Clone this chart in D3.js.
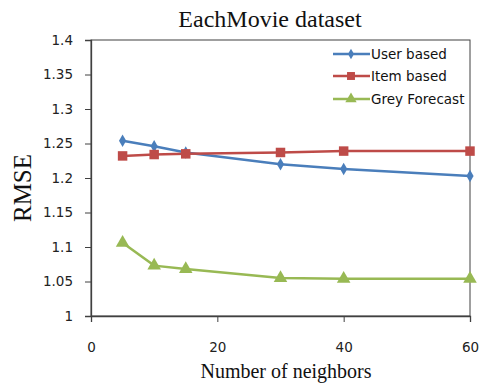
<!DOCTYPE html>
<html><head><meta charset="utf-8">
<script src="https://cdn.jsdelivr.net/npm/d3@7"></script>
<style>body{margin:0;background:#fff}svg{display:block}</style>
</head><body>
<svg id="c" width="479" height="387"></svg>
<script>
const neighbors = [5, 10, 15, 30, 40, 60];
const userBased = [1.254, 1.246, 1.237, 1.220, 1.213, 1.203];
const itemBased = [1.232, 1.234, 1.235, 1.237, 1.239, 1.239];
const greyForecast = [1.106, 1.073, 1.068, 1.055, 1.054, 1.054];
const seriesNames = ["User based", "Item based", "Grey Forecast"];
const xTicks = [0, 20, 40, 60];
const yTicks = [1, 1.05, 1.1, 1.15, 1.2, 1.25, 1.3, 1.35, 1.4];

const svg = d3.select("#c");
const L = 91, R = 470, T = 40, B = 316;
const x = d3.scaleLinear().domain([0, 60]).range([L, R]);
const y = d3.scaleLinear().domain([1, 1.4]).range([B, T]);
const frame = "#404040";
const tickFont = "'DejaVu Sans', sans-serif";
const serif = "'Liberation Serif', 'Times New Roman', serif";

// frame
svg.append("rect").attr("x", L).attr("y", T).attr("width", R - L).attr("height", B - T)
  .attr("fill", "none").attr("stroke", frame).attr("stroke-width", 1);

// y axis
const ya = svg.append("g").attr("transform", `translate(${L},0)`)
  .call(d3.axisLeft(y).tickValues(yTicks).tickSize(6).tickPadding(12)
    .tickFormat(d => d3.format("")(+d.toFixed(2))));
ya.select(".domain").attr("stroke", frame).attr("stroke-width", 1.3);
ya.selectAll(".tick line").attr("stroke", frame);
ya.selectAll("text").attr("font-family", tickFont).attr("font-size", 13.5).attr("fill", "#222");

// x axis
const xa = svg.append("g").attr("transform", `translate(0,${B})`)
  .call(d3.axisBottom(x).tickValues(xTicks).tickSize(6).tickPadding(20));
xa.select(".domain").attr("stroke", frame).attr("stroke-width", 1.3);
xa.selectAll(".tick line").attr("stroke", frame);
xa.selectAll("text").attr("font-family", tickFont).attr("font-size", 13.5).attr("fill", "#222");

// titles
svg.append("text").attr("x", 270).attr("y", 27).attr("text-anchor", "middle")
  .attr("font-family", serif).attr("font-size", 24).attr("fill", "#111").text("EachMovie dataset");
svg.append("text").attr("transform", "translate(31,188) rotate(-90)").attr("text-anchor", "middle")
  .attr("font-family", serif).attr("font-size", 25).attr("fill", "#111").text("RMSE");
svg.append("text").attr("x", 286).attr("y", 378).attr("text-anchor", "middle")
  .attr("font-family", serif).attr("font-size", 20).attr("fill", "#111").text("Number of neighbors");

const colors = ["#4a7ebb", "#be4b48", "#98b954"];
const symbols = [d3.symbolDiamond, d3.symbolSquare, d3.symbolTriangle];
const sizes = [45, 90, 80];
const data = [userBased, itemBased, greyForecast];
const line = d3.line().x((d, i) => x(neighbors[i])).y(d => y(d));

data.forEach((vals, s) => {
  svg.append("path").attr("d", line(vals)).attr("fill", "none")
    .attr("stroke", colors[s]).attr("stroke-width", 2.5);
  svg.selectAll(null).data(vals).enter().append("path")
    .attr("transform", (d, i) => `translate(${x(neighbors[i])},${y(d)})`)
    .attr("d", d3.symbol().type(symbols[s]).size(sizes[s]))
    .attr("fill", colors[s]);
});

// legend
const ly = [54, 76, 99];
seriesNames.forEach((n, s) => {
  svg.append("line").attr("x1", 333).attr("x2", 370).attr("y1", ly[s]).attr("y2", ly[s])
    .attr("stroke", colors[s]).attr("stroke-width", 2.5);
  svg.append("path").attr("transform", `translate(351,${ly[s]})`)
    .attr("d", d3.symbol().type(symbols[s]).size(sizes[s] * 0.7)).attr("fill", colors[s]);
  svg.append("text").attr("x", 371).attr("y", ly[s] + 5)
    .attr("font-family", tickFont).attr("font-size", 13.5).attr("fill", "#111").text(n);
});
</script>
</body></html>
